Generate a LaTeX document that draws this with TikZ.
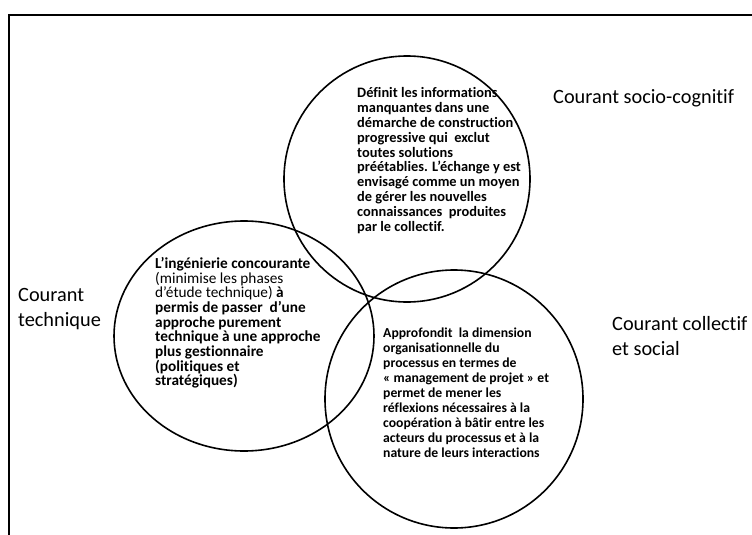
\documentclass[tikz,border=0pt]{standalone}
\usepackage{fontspec}
\setmainfont{Carlito}[Ligatures=NoCommon]
\usetikzlibrary{positioning, shapes.geometric}

\begin{document}
\begin{tikzpicture}[
x=1pt, y=-1pt,
ring/.style={circle, draw, line width=1.6pt, inner sep=0pt},
blurb/.style={anchor=north west, align=left, inner sep=0pt, font=\fontsize{14.4}{14.8}\selectfont\bfseries},
courant/.style={anchor=north west, align=left, inner sep=0pt, font=\fontsize{20.3}{24.8}\selectfont}
]
\useasboundingbox (0,0) rectangle (752,535);

% cadre
\draw[line width=1.8pt] (9,535) -- (9,15) -- (752,15);

% les trois courants
\node[ring, minimum size=246pt] (cogn) at (407,179) {};
\node[ring, ellipse, minimum width=260pt, minimum height=230pt] (tech) at (244,336) {};
\node[ring, minimum size=258pt] (soc) at (454,399) {};

\node[blurb] (txtcogn) at (357,87.5) {Définit les informations\\manquantes dans une\\démarche de construction\\progressive qui\ \ exclut\\toutes solutions\\préétablies. L’échange y est\\envisagé comme un moyen\\de gérer les nouvelles\\connaissances\ \ produites\\par le collectif.};

\node[blurb, font=\fontsize{15.3}{14.7}\selectfont\bfseries] (txttech) at (155,257) {L’ingénierie concourante\\{\mdseries (minimise les phases}\\{\mdseries d’étude technique)} à\\permis de passer\ \ d’une\\approche purement\\technique à une approche\\plus gestionnaire\\(politiques et\\stratégiques)};

\node[blurb, font=\fontsize{13.7}{15}\selectfont\bfseries] (txtsoc) at (383,328) {Approfondit\ \ la dimension\\organisationnelle du\\processus en termes de\\« management de projet » et\\permet de mener les\\réflexions nécessaires à la\\coopération à bâtir entre les\\acteurs du processus et à la\\nature de leurs interactions};

% titres
\node[courant, anchor=base west] (lcogn) at (553,103) {Courant socio-cognitif};
\node[courant] (ltech) at (18,288.3) {Courant\\technique};
\node[courant] (lsoc) at (612,316.6) {Courant collectif\\et social};

\end{tikzpicture}
\end{document}
